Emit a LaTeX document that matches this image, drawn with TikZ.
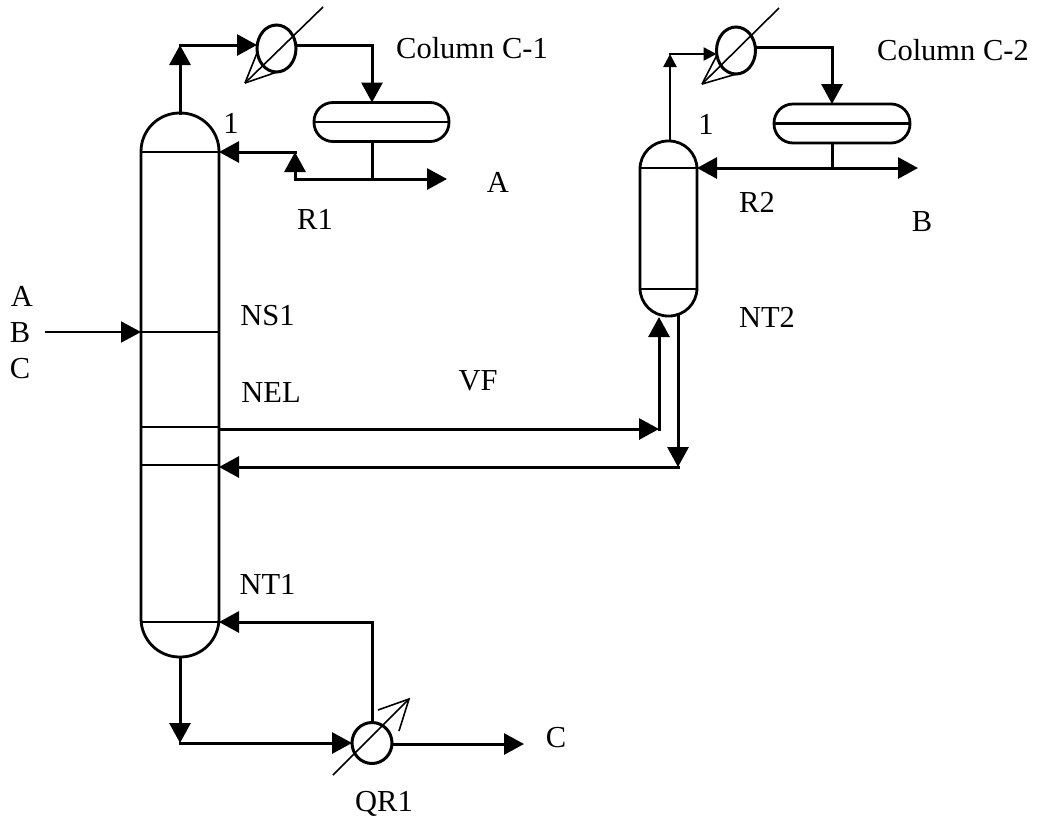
\documentclass[tikz,border=0pt]{standalone}
\usepackage{fontspec}
\setmainfont{Liberation Serif}
\usetikzlibrary{arrows.meta,shapes.geometric}
\tikzset{
  vessel/.style={draw,line width=2.8pt,inner sep=0pt,outer sep=0pt},
  cooler/.style={ellipse,draw,line width=3pt,inner sep=0pt,outer sep=0pt,minimum width=39pt,minimum height=47pt},
  pipe/.style={line width=3pt,line cap=rect},
  flow/.style={line width=3pt,line cap=rect,-{Triangle[length=20pt,width=21pt]}},
  feedflow/.style={line width=2pt,-{Triangle[length=20pt,width=21pt]}},
  smallflow/.style={line width=2.5pt,line cap=rect,-{Triangle[length=13pt,width=13pt]}},
  thinline/.style={line width=1.6pt},
  tray/.style={line width=2.5pt},
  lbl/.style={inner sep=0pt,font=\fontsize{30.5}{32}\selectfont}
}
\begin{document}
\begin{tikzpicture}[x=1pt,y=-1pt]
\useasboundingbox (0,0) rectangle (1042,823);

\node[vessel,rounded corners=38.5pt,minimum width=78pt,minimum height=544pt] (col1) at (180,385) {};
\node[vessel,rounded corners=28pt,minimum width=57pt,minimum height=175pt] (col2) at (668.5,228.5) {};
\node[vessel,rounded corners=19pt,minimum width=135pt,minimum height=39pt] (drum1) at (381.5,122) {};
\node[vessel,rounded corners=19pt,minimum width=136pt,minimum height=39pt] (drum2) at (842,123.5) {};
\node[cooler] (cond1) at (276.5,48.5) {};
\node[cooler] (cond2) at (736,50.5) {};
\node[cooler,minimum width=40pt,minimum height=41pt] (reb1) at (372,743) {};

\coordinate (top1) at (219,152);
\coordinate (feed1) at (141,332);
\coordinate (draw1) at (219,427);
\coordinate (ret1) at (219,465);
\coordinate (bot1) at (219,622);
\coordinate (top2) at (697,168);
\coordinate (bot2) at (697,289);

\draw[tray] (col1.west |- top1) -- (top1);
\draw[tray] (feed1) -- (col1.east |- feed1);
\draw[tray] (col1.west |- draw1) -- (draw1);
\draw[tray] (col1.west |- ret1) -- (ret1);
\draw[tray] (col1.west |- bot1) -- (bot1);
\draw[tray] (col2.west |- top2) -- (top2);
\draw[tray] (col2.west |- bot2) -- (bot2);
\draw[tray] (drum1.west) -- (drum1.east);
\draw[tray] (drum2.west) -- (drum2.east);

% condenser and reboiler marks
\coordinate (fan1) at (245,83);
\coordinate (end1) at (323,7);
\coordinate (fan2) at (702,84);
\coordinate (end2) at (779,8);
\coordinate (tail3) at (333,775);
\coordinate (tip3) at (409,699);
\draw[thinline] (fan1) -- (end1);
\draw[thinline] (fan1) -- (257,53);
\draw[thinline] (fan1) -- (277,72);
\draw[thinline] (fan2) -- (end2);
\draw[thinline] (fan2) -- (717,55);
\draw[thinline] (fan2) -- (740,73);
\draw[thinline] (tail3) -- (tip3);
\draw[thinline] (378,710) -- (tip3) -- (399,731);

% column 1 streams
\coordinate (up1) at (180,45);
\coordinate (turn1) at (372,45);
\coordinate (rec1) at (295,179);
\coordinate (rec1b) at (295,152);
\coordinate (prod1) at (372,179);
\coordinate (outa) at (447,179);
\coordinate (ina) at (45,332);
\draw[flow] (col1.north) -- (up1);
\draw[flow] (up1) -- (up1 -| cond1.west);
\draw[pipe] (cond1.east |- up1) -- (turn1);
\draw[flow] (turn1) -- (turn1 |- drum1.north);
\draw[pipe] (turn1 |- drum1.south) -- (prod1);
\draw[flow] (rec1) -- (outa);
\draw[flow] (rec1) -- (rec1b);
\draw[flow] (rec1b) -- (top1);
\draw[feedflow] (ina) -- (feed1);

% column 2 streams
\coordinate (up2) at (670,54);
\coordinate (turn2) at (832,47);
\coordinate (prod2) at (832,168);
\coordinate (outb) at (918,168);
\draw[smallflow] (col2.north -| up2) -- (up2);
\draw[smallflow] (up2) -- (up2 -| cond2.west);
\draw[pipe] (cond2.east |- turn2) -- (turn2);
\draw[flow] (turn2) -- (turn2 |- drum2.north);
\draw[pipe] (turn2 |- drum2.south) -- (prod2);
\draw[flow] (prod2) -- (outb);
\draw[flow] (prod2) -- (top2);

% side streams
\coordinate (vap) at (659,429);
\coordinate (vapin) at (659,317);
\coordinate (liq) at (678,467);
\coordinate (liqout) at (678,316);
\draw[flow] (draw1 |- vap) -- (vap);
\draw[flow] (vap) -- (vapin);
\draw[flow] (liqout) -- (liq);
\draw[flow] (liq) -- (ret1 |- liq);

% reboiler streams
\coordinate (down1) at (180,743);
\coordinate (turn3) at (372,622);
\coordinate (outc) at (524,744);
\draw[flow] (col1.south) -- (down1);
\draw[flow] (down1) -- (reb1.west);
\draw[pipe] (reb1.north) -- (turn3);
\draw[flow] (turn3) -- (bot1);
\draw[flow] (reb1.east |- outc) -- (outc);

\node[lbl] (titlec1) at (472,48) {Column C-1};
\node[lbl] (titlec2) at (953,50) {Column C-2};
\node[lbl] (tray1) at (231,123) {1};
\node[lbl] (tray2) at (706,124) {1};
\node[lbl] (proda) at (498,182) {A};
\node[lbl] (prodb) at (922,222) {B};
\node[lbl] (prodc) at (556,738) {C};
\node[lbl] (r1) at (315,219) {R1};
\node[lbl] (r2) at (757,202) {R2};
\node[lbl] (ns1) at (267.5,316) {NS1};
\node[lbl] (nel) at (271,393) {NEL};
\node[lbl] (nt1) at (267.5,584) {NT1};
\node[lbl] (nt2) at (767,317) {NT2};
\node[lbl] (vf) at (478,381) {VF};
\node[lbl] (qr1) at (384,804) {QR1};
\node[lbl] (feeda) at (22,296) {A};
\node[lbl] (feedb) at (20,333) {B};
\node[lbl] (feedc) at (20,369) {C};
\end{tikzpicture}
\end{document}
